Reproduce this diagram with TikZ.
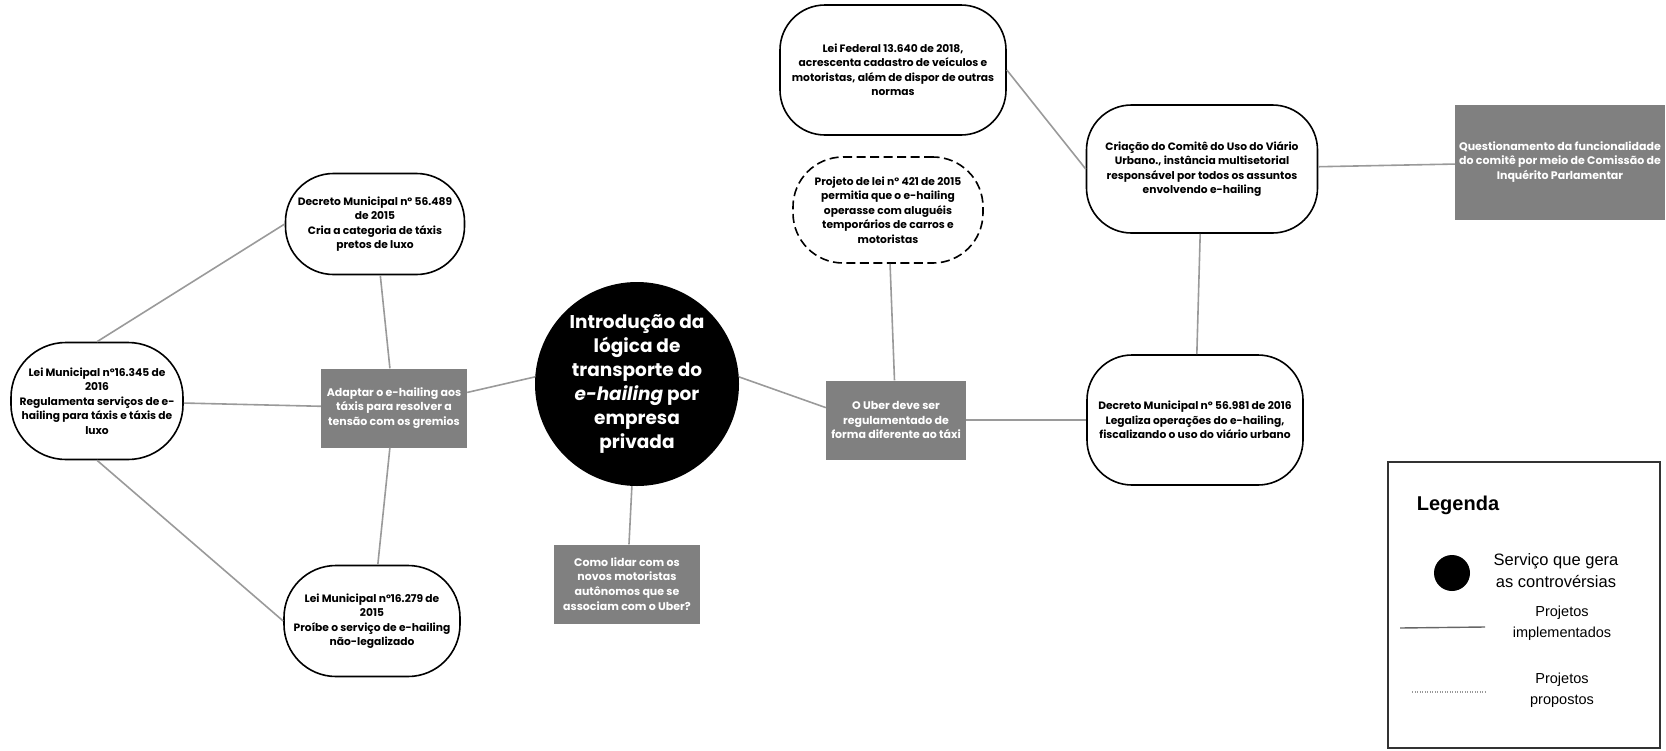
\documentclass[tikz,border=0pt]{standalone}
\usepackage{fontspec}
\setmainfont{Poppins}
\newfontfamily\legendfont{Liberation Sans}
\definecolor{boxgray}{HTML}{808080}
\definecolor{linkgray}{HTML}{9A9A9A}
\usetikzlibrary{positioning, shapes.geometric, calc}
\tikzset{
	lawnode/.style={
			rectangle,
			rounded corners=45pt,
			draw=black,
			line width=1.6pt,
			fill=white,
			align=center,
			inner sep=2pt,
			font=\bfseries\fontsize{10.7}{14.5}\selectfont
		},
	proposednode/.style={
			lawnode,
			dash pattern=on 9pt off 4.5pt
		},
	topicnode/.style={
			rectangle,
			draw=none,
			fill=boxgray,
			text=white,
			align=center,
			inner sep=2pt,
			font=\bfseries\fontsize{11}{14.8}\selectfont
		},
	centernode/.style={
			circle,
			fill=black,
			text=white,
			align=center,
			inner sep=0pt,
			minimum size=204pt,
			font=\bfseries\fontsize{18.5}{24}\selectfont
		},
	link/.style={
			draw=linkgray,
			line width=1.6pt
		}
}

\begin{document}
\begin{tikzpicture}[x=1pt, y=-1pt]
\useasboundingbox (0,0) rectangle (1666,750);
\node[centernode] (n1) at (637,384) {Introdução da\\lógica de\\transporte do\\\textit{e-hailing} por\\empresa\\privada};
\node[topicnode, minimum width=146pt, minimum height=79pt] (n2) at (394,408) {Adaptar o e-hailing aos\\táxis para resolver a\\tensão com os gremios};
\node[lawnode, rounded corners=48pt, minimum width=179pt, minimum height=101pt] (n3) at (375,224) {Decreto Municipal nº 56.489\\de 2015\\Cria a categoria de táxis\\pretos de luxo};
\node[lawnode, rounded corners=55pt, minimum width=172pt, minimum height=117pt] (n4) at (97,401) {Lei Municipal nº16.345 de\\2016\\Regulamenta serviços de e-\\hailing para táxis e táxis de\\luxo};
\node[lawnode, rounded corners=52pt, minimum width=176pt, minimum height=111pt] (n5) at (372,621) {Lei Municipal nº16.279 de\\2015\\Proíbe o serviço de e-hailing\\não-legalizado};
\node[topicnode, minimum width=146pt, minimum height=79pt] (n6) at (627,584) {Como lidar com os\\novos motoristas\\autônomos que se\\associam com o Uber?};
\node[topicnode, minimum width=140pt, minimum height=79pt] (n7) at (896,420) {O Uber deve ser\\regulamentado de\\forma diferente ao táxi};
\node[proposednode, rounded corners=50pt, minimum width=190pt, minimum height=106pt] (n8) at (888,210) {Projeto de lei nº 421 de 2015\\permitia que o e-hailing\\operasse com aluguéis\\temporários de carros e\\motoristas};
\node[lawnode, minimum width=216pt, minimum height=130pt] (n9) at (1195,420) {Decreto Municipal nº 56.981 de 2016\\Legaliza operações do e-hailing,\\fiscalizando o uso do viário urbano};
\node[lawnode, minimum width=231pt, minimum height=128pt] (n10) at (1202,169) {Criação do Comitê do Uso do Viário\\Urbano., instância multisetorial\\responsável por todos os assuntos\\envolvendo e-hailing};
\node[lawnode, minimum width=226pt, minimum height=130pt] (n11) at (893,70) {Lei Federal 13.640 de 2018,\\acrescenta cadastro de veículos e\\motoristas, além de dispor de outras\\normas};
\node[topicnode, minimum width=210pt, minimum height=115pt] (n12) at (1560,162) {Questionamento da funcionalidade\\do comitê por meio de Comissão de\\Inquérito Parlamentar};

% connections
\draw[link] (n1.176) -- (n2.12);
\draw[link] (n1.4) -- (n7.170);
\draw[link] (n1) -- (n6);
\draw[link] (n2) -- (n3);
\draw[link] (n2) -- (n4);
\draw[link] (n2) -- (n5);
\draw[link] (n3.west) -- (n4.north);
\draw[link] (n4.south) -- (n5.west);
\draw[link] (n7) -- (n8);
\draw[link] (n7) -- (n9);
\draw[link] (n9) -- (n10);
\draw[link] (n10.west) -- (n11.east);
\draw[link] (n10) -- (n12);

% legend
\draw[line width=1.5pt, draw=black!80] (1388,462) rectangle (1660,748);
\node[font=\legendfont\bfseries\fontsize{20}{24}\selectfont] (lt) at (1458,505) {Legenda};
\node[circle, fill=black, minimum size=36pt, inner sep=0pt] (ld) at (1452,573) {};
\node[font=\legendfont\fontsize{16.5}{22}\selectfont, align=center] (l1) at (1556,571) {Serviço que gera\\as controvérsias};
\coordinate (s1) at (1400,628);
\coordinate (s2) at (1485,627);
\draw[line width=1.4pt, draw=black!60] (s1) -- (s2);
\node[font=\legendfont\fontsize{14.5}{21}\selectfont, align=center] (l2) at (1562,623) {Projetos\\implementados};
\coordinate (p1) at (1412,692);
\coordinate (p2) at (1485,692);
\draw[line width=1.2pt, draw=black!40, dash pattern=on 1pt off 1.5pt] (p1) -- (p2);
\node[font=\legendfont\fontsize{14.5}{21}\selectfont, align=center] (l3) at (1562,690) {Projetos\\propostos};
\end{tikzpicture}
\end{document}
